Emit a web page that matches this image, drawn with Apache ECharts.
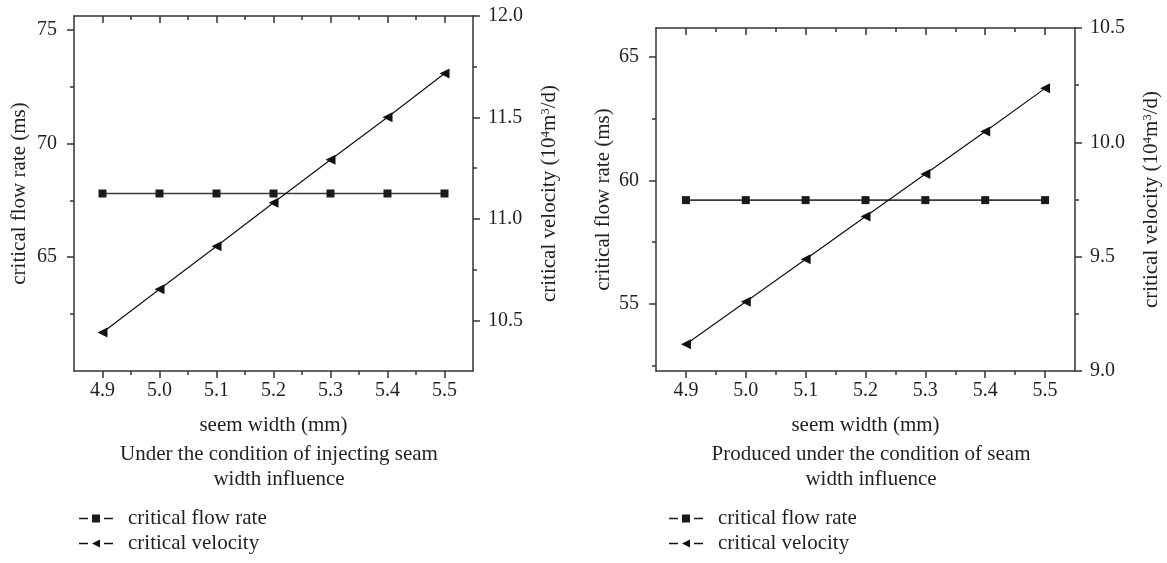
<!DOCTYPE html>
<html>
<head>
<meta charset="utf-8">
<script src="https://cdn.jsdelivr.net/npm/echarts@6/dist/echarts.min.js"></script>
<style>
html,body{margin:0;padding:0;background:#fff;}
#chart{width:1167px;height:563px;}
</style>
</head>
<body>
<div id="chart"></div>
<script>
// ---- data ----
const seamWidth = [4.9, 5.0, 5.1, 5.2, 5.3, 5.4, 5.5];
const injFlowRate = [67.8, 67.8, 67.8, 67.8, 67.8, 67.8, 67.8];
const injVelocity = [10.44, 10.653, 10.865, 11.079, 11.291, 11.501, 11.717];
const prodFlowRate = [59.2, 59.2, 59.2, 59.2, 59.2, 59.2, 59.2];
const prodVelocity = [9.117, 9.303, 9.489, 9.676, 9.862, 10.047, 10.236];

const xTicks = [4.9, 5.0, 5.1, 5.2, 5.3, 5.4, 5.5];
const xMinorTicks = [4.95, 5.05, 5.15, 5.25, 5.35, 5.45];
const injFlowTicks = [65, 70, 75];
const injFlowMinor = [62.5, 67.5, 72.5];
const injVelTicks = [10.5, 11.0, 11.5, 12.0];
const injVelMinor = [10.75, 11.25, 11.75];
const prodFlowTicks = [55, 60, 65];
const prodFlowMinor = [52.5, 57.5, 62.5];
const prodVelTicks = [9.0, 9.5, 10.0, 10.5];
const prodVelMinor = [9.25, 9.75, 10.25];

const seriesNames = ['critical flow rate', 'critical velocity'];
const xName = 'seem width (mm)';
const yLeftName = 'critical flow rate (ms)';
const yRightName = 'critical velocity (10{sup|4}m{sup|3}/d)';
const captions = ['Under the condition of injecting seam\nwidth influence',
                  'Produced under the condition of seam\nwidth influence'];

// ---- styling ----
const FONT = 'Liberation Serif';
const TXT = '#231f20';
const AX = '#333333';
const FS_TICK = 20;
const FS = 21;

// legend icons: dash - marker - dash
const ICON_SQUARE = 'path://M0,3.3L9,3.3L9,4.7L0,4.7Z M13,0L21,0L21,8L13,8Z M25,3.3L34,3.3L34,4.7L25,4.7Z';
const ICON_TRI = 'path://M0,3.3L9,3.3L9,4.7L0,4.7Z M13,4L21,0L21,8Z M25,3.3L34,3.3L34,4.7L25,4.7Z';

const panels = [
  { grid: {left: 74, top: 16, width: 399, height: 355},
    xRange: [4.85, 5.55], yL: [60, 75.6], yR: [10.25, 12.0],
    yLT: injFlowTicks, yLM: injFlowMinor, yRT: injVelTicks, yRM: injVelMinor,
    flow: injFlowRate, vel: injVelocity, cx: 274, leftLeg: 74, lGap: 44 },
  { grid: {left: 656, top: 28, width: 419, height: 343},
    xRange: [4.85, 5.55], yL: [52.3, 66.15], yR: [9.0, 10.5],
    yLT: prodFlowTicks, yLM: prodFlowMinor, yRT: prodVelTicks, yRM: prodVelMinor,
    flow: prodFlowRate, vel: prodVelocity, cx: 866, leftLeg: 664, lGap: 42 }
];

const grids = [], xAxes = [], yAxes = [], series = [], titles = [], legends = [];
const lineStyleAx = {color: AX, width: 1.5};
const labelStyle = {color: TXT, fontFamily: FONT, fontSize: FS_TICK};

panels.forEach((p, gi) => {
  grids.push(p.grid);
  const xb = xAxes.length;
  xAxes.push({type: 'value', gridIndex: gi, position: 'bottom', min: p.xRange[0], max: p.xRange[1],
    name: xName, nameLocation: 'middle', nameGap: 44,
    nameTextStyle: {color: TXT, fontFamily: FONT, fontSize: FS},
    axisLine: {lineStyle: lineStyleAx},
    axisTick: {show: true, length: 7, lineStyle: lineStyleAx, customValues: xTicks},
    axisLabel: Object.assign({margin: 10, customValues: xTicks, formatter: v => v.toFixed(1)}, labelStyle),
    splitLine: {show: false}});
  xAxes.push({type: 'value', gridIndex: gi, position: 'bottom', min: p.xRange[0], max: p.xRange[1],
    axisLine: {show: false}, axisLabel: {show: false}, splitLine: {show: false},
    axisTick: {show: true, length: 4, lineStyle: lineStyleAx, customValues: xMinorTicks}});
  xAxes.push({type: 'value', gridIndex: gi, position: 'top', min: p.xRange[0], max: p.xRange[1],
    axisLine: {lineStyle: lineStyleAx}, axisLabel: {show: false}, splitLine: {show: false},
    axisTick: {show: true, inside: true, length: 7, lineStyle: lineStyleAx, customValues: xTicks}});
  xAxes.push({type: 'value', gridIndex: gi, position: 'top', min: p.xRange[0], max: p.xRange[1],
    axisLine: {show: false}, axisLabel: {show: false}, splitLine: {show: false},
    axisTick: {show: true, inside: true, length: 4, lineStyle: lineStyleAx, customValues: xMinorTicks}});

  const yb = yAxes.length;
  yAxes.push({type: 'value', gridIndex: gi, position: 'left', min: p.yL[0], max: p.yL[1],
    name: yLeftName, nameLocation: 'middle', nameGap: p.lGap, nameRotate: 90,
    nameTextStyle: {color: TXT, fontFamily: FONT, fontSize: FS},
    axisLine: {show: true, lineStyle: lineStyleAx},
    axisTick: {show: true, length: 7, lineStyle: lineStyleAx, customValues: p.yLT},
    axisLabel: Object.assign({margin: 17, customValues: p.yLT, formatter: v => String(Math.round(v))}, labelStyle),
    splitLine: {show: false}});
  yAxes.push({type: 'value', gridIndex: gi, position: 'left', min: p.yL[0], max: p.yL[1],
    axisLine: {show: false}, axisLabel: {show: false}, splitLine: {show: false},
    axisTick: {show: true, length: 4, lineStyle: lineStyleAx, customValues: p.yLM}});
  yAxes.push({type: 'value', gridIndex: gi, position: 'right', min: p.yR[0], max: p.yR[1],
    name: yRightName, nameLocation: 'middle', nameGap: 66, nameRotate: 90,
    nameTextStyle: {color: TXT, fontFamily: FONT, fontSize: FS,
      rich: {sup: {fontSize: 13, fontFamily: FONT, color: TXT, verticalAlign: 'top', lineHeight: 13}}},
    axisLine: {show: true, lineStyle: lineStyleAx},
    axisTick: {show: true, length: 7, lineStyle: lineStyleAx, customValues: p.yRT},
    axisLabel: Object.assign({margin: 15, customValues: p.yRT, formatter: v => v.toFixed(1)}, labelStyle),
    splitLine: {show: false}});
  yAxes.push({type: 'value', gridIndex: gi, position: 'right', min: p.yR[0], max: p.yR[1],
    axisLine: {show: false}, axisLabel: {show: false}, splitLine: {show: false},
    axisTick: {show: true, length: 4, lineStyle: lineStyleAx, customValues: p.yRM}});

  series.push({name: seriesNames[0], type: 'line', xAxisIndex: xb, yAxisIndex: yb,
    data: seamWidth.map((x, i) => [x, p.flow[i]]),
    symbol: 'rect', symbolSize: 8, showAllSymbol: true,
    itemStyle: {color: '#1a1a1a'}, lineStyle: {color: '#3a3a3a', width: 1.6}, animation: false});
  series.push({name: seriesNames[1], type: 'line', xAxisIndex: xb, yAxisIndex: yb + 2,
    data: seamWidth.map((x, i) => [x, p.vel[i]]),
    symbol: 'triangle', symbolSize: 10, symbolRotate: 90, showAllSymbol: true,
    itemStyle: {color: '#111'}, lineStyle: {color: '#111', width: 1.2}, animation: false});

  titles.push({text: captions[gi], left: p.cx, top: 437, textAlign: 'center',
    textStyle: {color: TXT, fontFamily: FONT, fontSize: FS, fontWeight: 'normal', lineHeight: 25}});
  legends.push({
    data: [{name: seriesNames[0], icon: ICON_SQUARE}, {name: seriesNames[1], icon: ICON_TRI}],
    orient: 'vertical', left: p.leftLeg, top: 503,
    itemWidth: 34, itemHeight: 8, itemGap: 4, symbolRotate: 0,
    textStyle: {color: TXT, fontFamily: FONT, fontSize: FS, padding: [0, 0, 0, 10]}});
});

const chart = echarts.init(document.getElementById('chart'), null, {renderer: 'canvas'});
chart.setOption({
  backgroundColor: '#fff',
  animation: false,
  title: titles,
  legend: legends,
  grid: grids,
  xAxis: xAxes,
  yAxis: yAxes,
  series: series
});
</script>
</body>
</html>
